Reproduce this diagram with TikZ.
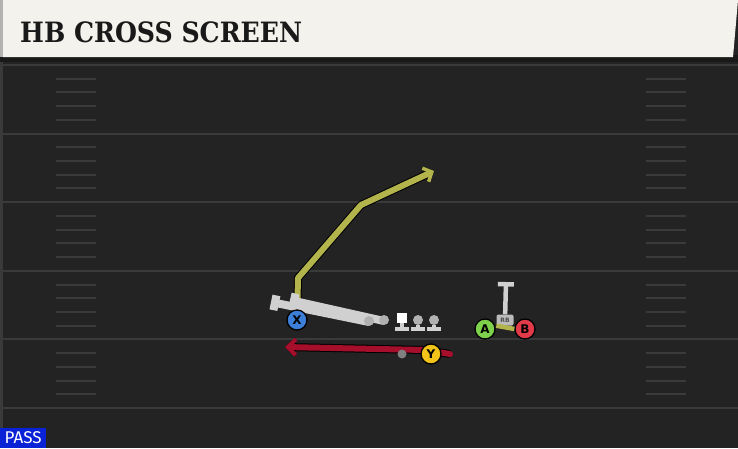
\documentclass[tikz,border=0pt]{standalone}
\usepackage{fontspec}
\usetikzlibrary{arrows.meta}
\newfontfamily\titlefont{DejaVu Serif Condensed}
\newfontfamily\labelfont{DejaVu Sans}
\newfontfamily\passfont{Fira Sans}

\definecolor{fieldbg}{HTML}{232323}
\definecolor{yardline}{HTML}{3A3A3A}
\definecolor{headerbg}{HTML}{F4F2EC}
\definecolor{routeolive}{HTML}{B4B44C}
\definecolor{routered}{HTML}{A50F2B}
\definecolor{blockgray}{HTML}{D0D0D0}
\definecolor{xblue}{HTML}{3B7FD9}
\definecolor{yyellow}{HTML}{F2C318}
\definecolor{agreen}{HTML}{7ED24B}
\definecolor{bred}{HTML}{E23A48}
\definecolor{passblue}{HTML}{0A22D6}

\tikzset{
  player/.style={circle, draw=black, line width=1.3pt, minimum size=20pt, inner sep=0pt,
    font=\labelfont\bfseries\fontsize{12}{12}\selectfont},
  route/.style={line width=6pt, line join=round, preaction={draw=black, line width=8pt}},
  lineman/.style={circle, fill=blockgray!85!black, minimum size=10pt, inner sep=0pt},
  block/.style={blockgray, line width=8pt, -{Bar[width=15pt]}},
  stem/.style={blockgray, line width=4.5pt, -{Bar[width=14pt]}}
}

\begin{document}
\begin{tikzpicture}[x=1pt,y=-1pt]
  \useasboundingbox (0,0) rectangle (738,448);

  % Field
  \fill[fieldbg] (0,0) rectangle (738,448);
  \fill[yardline] (0,0) rectangle (3,448);
  \foreach \k in {0,...,5}
    \draw[yardline, line width=2pt] (3,{65+68.6*\k}) -- (738,{65+68.6*\k});
  % Hash marks
  \foreach \k in {0,...,4}
    \foreach \j in {1,...,4} {
      \draw[yardline, line width=2pt] (56,{65+68.6*\k+13.72*\j}) -- (96,{65+68.6*\k+13.72*\j});
      \draw[yardline, line width=2pt] (646,{65+68.6*\k+13.72*\j}) -- (686,{65+68.6*\k+13.72*\j});
    }

  % Header
  \fill[black!90] (0,55) rectangle (738,62);
  \fill[gray!60] (0,0) rectangle (3,57);
  \fill[headerbg] (3,0) -- (738,0) -- (733,57) -- (3,57) -- cycle;
  \node[anchor=west, inner sep=0pt, text=black!90] (title) at (20,32)
    {\titlefont\bfseries\fontsize{28}{28}\selectfont HB CROSS SCREEN};

  % Player spots
  \coordinate (xspot) at (297,320);
  \coordinate (yspot) at (431,354);

  % Route of X
  \coordinate (xcut) at (298,278);
  \coordinate (xbreak) at (361,205);
  \coordinate (xend) at (434,171);
  \draw[route, routeolive, -{Straight Barb[length=7pt,width=15pt,line width=3.5pt]}] (xspot) -- (xcut) -- (xbreak) -- (xend);

  % Route of Y
  \coordinate (ystart) at (450,354);
  \coordinate (ybend) at (425,350);
  \coordinate (yend) at (285,347);
  \draw[route, routered, line width=6pt, line cap=round, -{Straight Barb[length=8pt,width=16pt,line width=4pt]}] (ystart) -- (ybend) -- (yend);

  % Offensive line
  \coordinate (blk1) at (271,302);
  \coordinate (blk2) at (290,300);
  \draw[block] (384,321) -- (blk2);
  \draw[block] (369,322) -- (blk1);
  \node[lineman] (ol1) at (369,321) {};
  \node[lineman] (ol2) at (384,320) {};
  \node[rectangle, fill=white, minimum size=10pt, inner sep=0pt] (ol3) at (402,318) {};
  \node[lineman] (ol4) at (418,320) {};
  \node[lineman] (ol5) at (434,320) {};
  \coordinate (base3) at (402,331);
  \coordinate (base4) at (418,331);
  \coordinate (base5) at (434,331);
  \draw[stem] (ol3) -- (base3);
  \draw[stem] (ol4) -- (base4);
  \draw[stem] (ol5) -- (base5);

  % Running back
  \node[rectangle, rounded corners=2pt, fill=blockgray!90!black, minimum width=17pt, minimum height=11pt,
    inner sep=0pt, font=\labelfont\bfseries\fontsize{6}{6}\selectfont, text=black!70] (rb) at (505,320) {RB};
  \coordinate (rbtop) at (506,282);
  \draw[stem, -{Bar[width=16pt]}] (rb) -- (rbtop);

  % Players
  \node[player, fill=agreen] (A) at (485,329) {A};
  \node[player, fill=bred] (B) at (525,329) {B};
  \draw[routeolive, line width=4.5pt] (rb.south west) -- (B.west);
  \node[player, fill=xblue] (X) at (xspot) {X};
  \node[circle, fill=gray, minimum size=9pt, inner sep=0pt] (ydot) at (402,354) {};
  \node[player, fill=yyellow] (Y) at (yspot) {Y};

  % Play type
  \node[anchor=south west, fill=passblue, text=white, minimum width=46pt, minimum height=20pt,
    inner sep=0pt, font=\passfont\fontsize{17}{17}\selectfont] (pass) at (0,448) {PASS};
\end{tikzpicture}
\end{document}
